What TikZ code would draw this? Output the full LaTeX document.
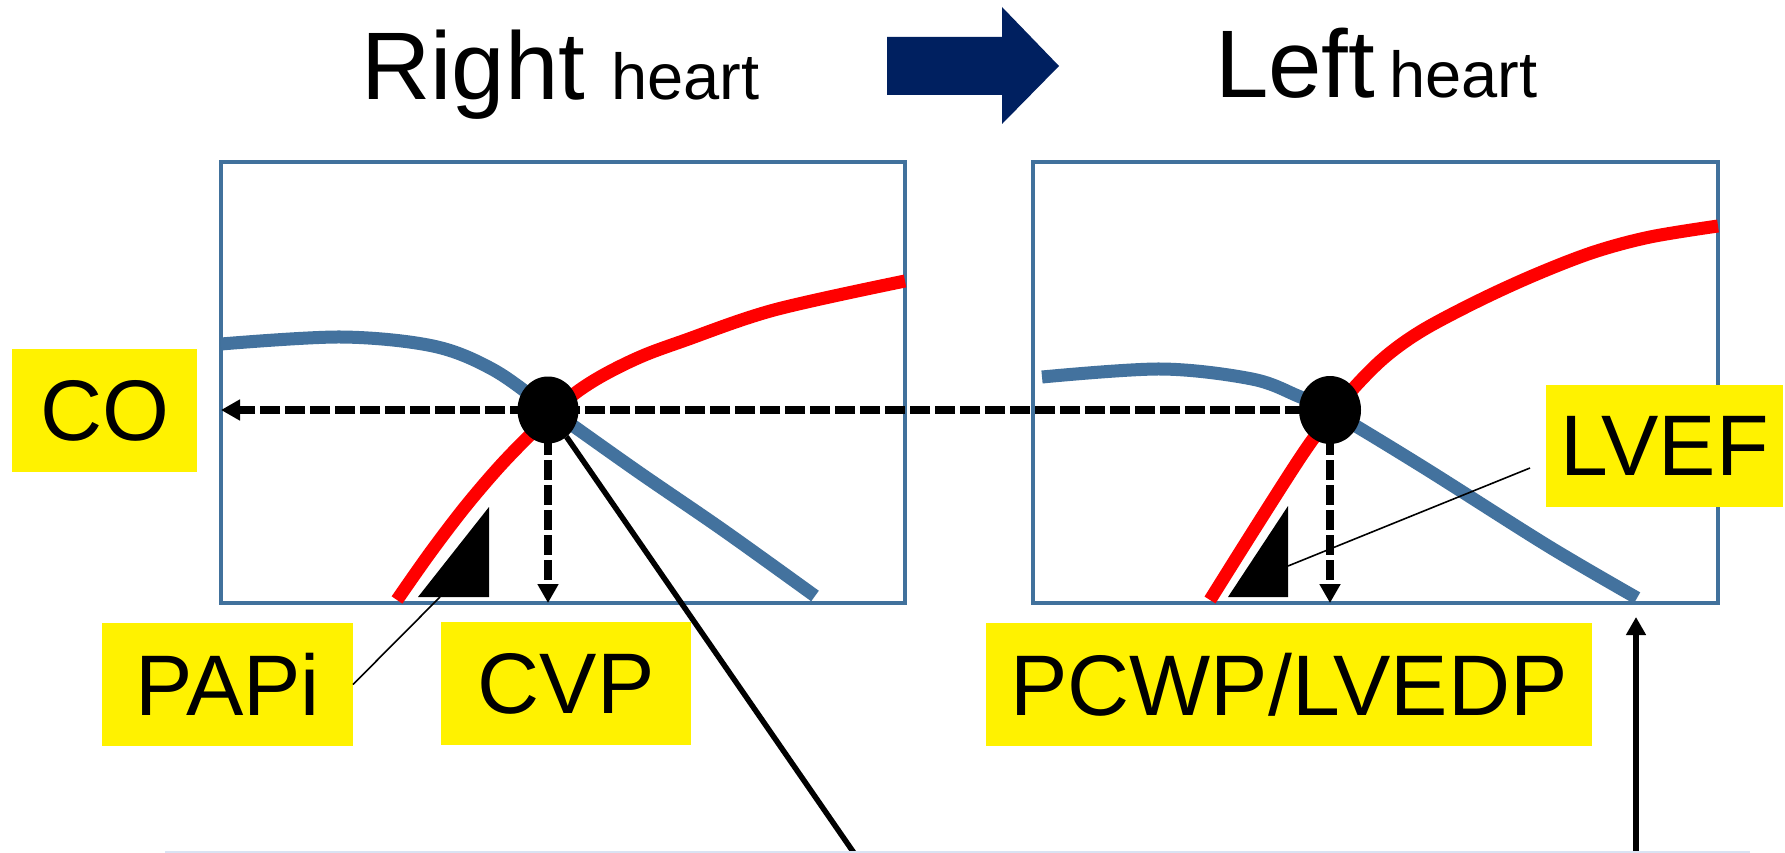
\documentclass[tikz,border=0pt]{standalone}
\usepackage{fontspec}
\setmainfont{Liberation Sans}
\usetikzlibrary{arrows.meta,shapes.geometric}
\definecolor{frameblue}{RGB}{65,113,156}
\definecolor{curveblue}{RGB}{67,114,158}
\definecolor{navy}{RGB}{0,32,96}
\definecolor{faintblue}{RGB}{218,227,243}
\begin{document}
\begin{tikzpicture}[x=1pt,y=-1pt,
  framebox/.style={draw=frameblue,line width=3.2pt,inner sep=0pt,outer sep=0pt,anchor=north west},
  bluecurve/.style={draw=curveblue,line width=13pt},
  redcurve/.style={draw=red,line width=13pt},
  dasharrow/.style={line width=7.5pt,dash pattern=on 20pt off 5pt,-{Triangle[length=19pt,width=20pt]}},
  thickline/.style={line width=5.5pt},
  leader/.style={line width=1.6pt},
  dotnode/.style={ellipse,fill=black,inner sep=0pt,outer sep=0pt},
  lab/.style={fill=yellow,inner sep=0pt,outer sep=0pt,anchor=north west,font=\fontsize{86}{90}\selectfont},
  bigtitle/.style={anchor=base west,inner sep=0pt,font=\fontsize{96}{100}\selectfont},
  smalltitle/.style={anchor=base west,inner sep=0pt,font=\fontsize{65}{68}\selectfont}]
\useasboundingbox (0,0) rectangle (1785,853);
\fill[white] (0,0) rectangle (1785,853);

% titles
\node[bigtitle] (rt) at (361,100) {Right};
\node[smalltitle] (rh) at (611,100) {heart};
\node[bigtitle] (lt) at (1215,98) {Left};
\node[smalltitle] (lh) at (1389,98) {heart};
\fill[navy] (887,37) -- (1002,37) -- (1002,7) -- (1059,66) -- (1002,124) -- (1002,95) -- (887,95) -- cycle;

% frames
\node[framebox,minimum width=684pt,minimum height=441pt] (lbox) at (221,162) {};
\node[framebox,minimum width=685pt,minimum height=441pt] (rbox) at (1033,162) {};

% curves left
\draw[bluecurve] plot[smooth,tension=0.55] coordinates {(221,344) (341,337) (433,346) (492,369) (548,408) (637,471) (723,530) (815,596)};
\draw[redcurve] plot[smooth,tension=0.55] coordinates {(397,600) (430,553) (465,507) (500,466) (535,430) (569,398) (600,377) (640,357) (683,341) (774,310) (905,281)};
% curves right
\draw[bluecurve] plot[smooth,tension=0.55] coordinates {(1042,377) (1161,369) (1252,379) (1298,396) (1332,412) (1423,467) (1548,546) (1637,598)};
\draw[redcurve] plot[smooth,tension=0.55] coordinates {(1210,600) (1252,533) (1298,461) (1322,427) (1352,390) (1385,357) (1423,330) (1480,300) (1537,274) (1594,252) (1650,237) (1718,226)};

% dashed arrows
\coordinate (c1) at (548,410);
\coordinate (c2) at (1330,410);
\coordinate (coend) at (lbox.west |- c1);
\coordinate (cvpend) at (c1 |- lbox.south);
\coordinate (pcwpend) at (c2 |- rbox.south);
\draw[dasharrow] (c2) -- (coend);
\draw[dasharrow] (c1) -- (cvpend);
\draw[dasharrow] (c2) -- (pcwpend);

% dots
\node[dotnode,minimum width=61pt,minimum height=67pt] (d1) at (c1) {};
\node[dotnode,minimum width=62pt,minimum height=68pt] (d2) at (c2) {};

% triangles
\fill (418,597) -- (489,597) -- (489,507) -- cycle;
\fill (1228,597) -- (1288,597) -- (1288,506) -- cycle;
\coordinate (t1) at (440,597);
\coordinate (t2) at (1288,566);
\coordinate (t2end) at (1530,468);

% labels
\node[lab,minimum width=185pt,minimum height=123pt] (co) at (12,349) {CO};
\node[lab,minimum width=237pt,minimum height=122pt] (lvef) at (1546,385) {LVEF};
\node[lab,minimum width=251pt,minimum height=123pt] (papi) at (102,623) {PAPi};
\node[lab,minimum width=250pt,minimum height=123pt] (cvp) at (441,622) {CVP};
\node[lab,minimum width=606pt,minimum height=123pt] (pcwp) at (986,623) {PCWP/LVEDP};

% leaders
\draw[leader] (t1) -- (papi.east);
\draw[leader] (t2) -- (t2end);

% long black lines
\coordinate (b1) at (854,853);
\coordinate (b2) at (1636,853);
\coordinate (b2tip) at (1636,617);
\draw[thickline] (d1) -- (b1);
\draw[thickline,-{Triangle[length=18pt,width=19pt]}] (b2) -- (b2tip);

% faint bottom line
\draw[faintblue,line width=2pt] (165,851.5) -- (1750,851.5);
\end{tikzpicture}
\end{document}
